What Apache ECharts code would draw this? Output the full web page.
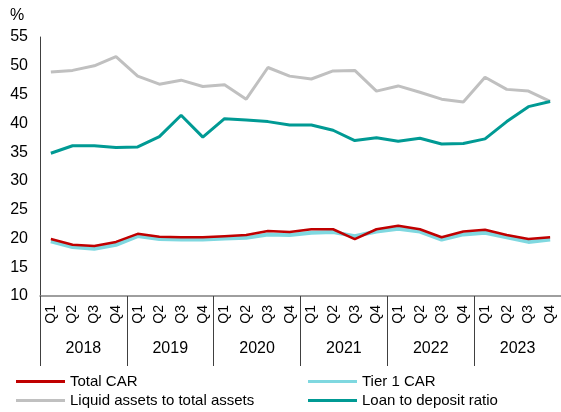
<!DOCTYPE html>
<html>
<head>
<meta charset="utf-8">
<script src="https://cdn.jsdelivr.net/npm/echarts@6/dist/echarts.min.js"></script>
<style>
  html, body { margin: 0; padding: 0; background: #fff; }
  #chart { width: 561px; height: 412px; }
</style>
</head>
<body>
<div id="chart"></div>
<script>
// data
var quarters = [];
var years = ['2018', '2019', '2020', '2021', '2022', '2023'];
years.forEach(function (y) {
    ['Q1', 'Q2', 'Q3', 'Q4'].forEach(function (q) { quarters.push(q); });
});

var totalCar = [19.9, 18.9, 18.7, 19.4, 20.8, 20.3, 20.2, 20.2, 20.4, 20.6, 21.3, 21.1,
                21.6, 21.6, 19.9, 21.6, 22.2, 21.6, 20.2, 21.2, 21.5, 20.6, 19.9, 20.2];
var tier1Car = [19.5, 18.5, 18.2, 18.9, 20.4, 19.9, 19.8, 19.8, 20.0, 20.1, 20.7, 20.6,
                21.0, 21.1, 20.4, 21.2, 21.7, 21.2, 19.8, 20.7, 21.0, 20.2, 19.4, 19.8];
var liquidAssets = [48.9, 49.2, 50.0, 51.6, 48.2, 46.8, 47.5, 46.4, 46.7, 44.2, 49.7, 48.2,
                    47.7, 49.1, 49.2, 45.6, 46.5, 45.4, 44.2, 43.7, 48.0, 45.9, 45.6, 43.8];
var loanDeposit = [34.8, 36.1, 36.1, 35.8, 35.9, 37.7, 41.4, 37.6, 40.8, 40.6, 40.3, 39.7,
                   39.7, 38.8, 37.0, 37.5, 36.9, 37.4, 36.4, 36.5, 37.3, 40.3, 42.9, 43.8];

var font = 'Liberation Sans, Arial, sans-serif';

var chart = echarts.init(document.getElementById('chart'));
var legendBase = {
    orient: 'vertical',
    bottom: -1,
    height: 60,
    icon: 'rect',
    itemWidth: 49,
    itemHeight: 3,
    itemGap: 4,
    textStyle: { fontFamily: font, fontSize: 15, color: '#000' }
};
var option = {
    animation: false,
    backgroundColor: '#fff',
    textStyle: { fontFamily: font, color: '#000' },
    title: {
        text: '%',
        left: 5,
        top: 3,
        textStyle: { fontFamily: font, fontSize: 16, fontWeight: 'normal', color: '#000' }
    },
    grid: { left: 40, top: 37, bottom: 116, right: -5 },
    legend: [
        Object.assign({}, legendBase, { left: 11, data: ['Total CAR', 'Liquid assets to total assets'] }),
        Object.assign({}, legendBase, { left: 303, data: ['Tier 1 CAR', 'Loan to deposit ratio'] })
    ],
    xAxis: [{
        type: 'category',
        data: quarters,
        position: 'bottom',
        axisLine: { show: true, lineStyle: { color: '#7f7f7f', width: 1.5 } },
        axisTick: { show: false },
        axisLabel: { rotate: 90, margin: 9, fontSize: 14, color: '#000', fontFamily: font, interval: 0 }
    }, {
        type: 'category',
        data: years,
        position: 'bottom',
        axisLine: { show: false },
        axisTick: { show: true, length: 70, lineStyle: { color: '#404040', width: 1 } },
        axisLabel: { margin: 45, fontSize: 16, color: '#000', fontFamily: font }
    }],
    yAxis: {
        type: 'value',
        min: 10,
        max: 55,
        interval: 5,
        axisLine: { show: true, lineStyle: { color: '#404040', width: 1 } },
        axisTick: { show: false },
        splitLine: { show: false },
        axisLabel: { margin: 12, fontSize: 16, color: '#000', fontFamily: font }
    },
    series: [{
        name: 'Tier 1 CAR',
        type: 'line',
        data: tier1Car,
        symbol: 'none',
        itemStyle: { color: '#7fd8e0' },
        lineStyle: { color: '#7fd8e0', width: 4 }
    }, {
        name: 'Total CAR',
        type: 'line',
        data: totalCar,
        symbol: 'none',
        itemStyle: { color: '#c00000' },
        lineStyle: { color: '#c00000', width: 2.5 }
    }, {
        name: 'Liquid assets to total assets',
        type: 'line',
        data: liquidAssets,
        symbol: 'none',
        itemStyle: { color: '#c0c0c0' },
        lineStyle: { color: '#c0c0c0', width: 3 }
    }, {
        name: 'Loan to deposit ratio',
        type: 'line',
        data: loanDeposit,
        symbol: 'none',
        itemStyle: { color: '#009a94' },
        lineStyle: { color: '#009a94', width: 3 }
    }]
};
chart.setOption(option);
</script>
</body>
</html>
